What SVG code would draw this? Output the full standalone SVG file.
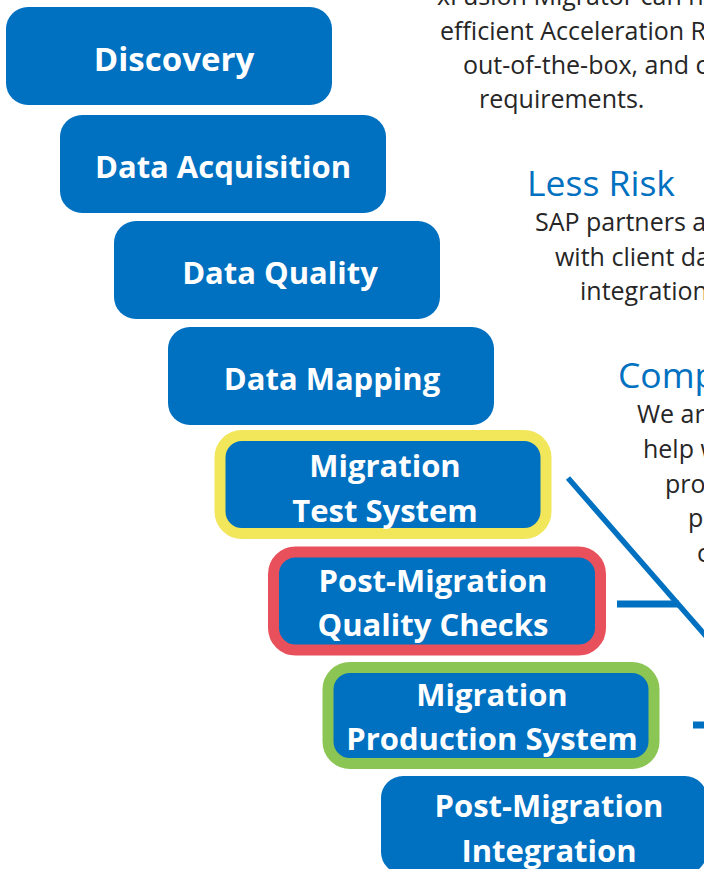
<svg xmlns="http://www.w3.org/2000/svg" width="704" height="869" viewBox="0 0 704 869">
<style>
.box{fill:#0070C0;}
.lbl{font-family:"Open Sans","Liberation Sans",sans-serif;font-weight:bold;font-size:31px;fill:#FFFFFF;text-anchor:middle;}
.body{font-family:"Open Sans","Liberation Sans",sans-serif;font-size:25px;fill:#262626;}
.head{font-family:"Open Sans","Liberation Sans",sans-serif;font-size:35.5px;fill:#0070C0;}
.conn{stroke:#0070C0;fill:none;}
</style>
<rect width="704" height="869" fill="#FFFFFF"/>
<g id="text-blocks">
<text class="body" x="437" y="5">xFusion Migrator can h</text>
<text class="body" x="440" y="39.5">efficient Acceleration R</text>
<text class="body" x="463" y="74">out-of-the-box, and c</text>
<text class="body" x="479" y="108">requirements.</text>
<text class="head" x="527" y="196">Less Risk</text>
<text class="body" x="535" y="231">SAP partners a</text>
<text class="body" x="555" y="265.5">with client da</text>
<text class="body" x="580" y="300">integration</text>
<text class="head" x="618" y="388">Comp</text>
<text class="body" x="637" y="423">We ar</text>
<text class="body" x="643" y="458">help w</text>
<text class="body" x="665" y="493">prov</text>
<text class="body" x="688" y="527">pr</text>
<text class="body" x="697" y="562">c</text>
</g>
<g id="connectors">
<line class="conn" x1="568" y1="478" x2="712" y2="643" stroke-width="5.5"/>
<line class="conn" x1="617" y1="604" x2="679" y2="604" stroke-width="7"/>
<line class="conn" x1="693" y1="725" x2="704" y2="725" stroke-width="7"/>
</g>
<g id="discovery">
<rect class="box" x="6" y="7" width="326" height="98" rx="22"/>
<text class="lbl" x="174" y="71" style="font-size:33px">Discovery</text>
</g>
<g id="data-acquisition">
<rect class="box" x="60" y="115" width="326" height="98" rx="22"/>
<text class="lbl" x="223" y="178">Data Acquisition</text>
</g>
<g id="data-quality">
<rect class="box" x="114" y="221" width="326" height="98" rx="22"/>
<text class="lbl" x="280" y="284">Data Quality</text>
</g>
<g id="data-mapping">
<rect class="box" x="168" y="327" width="326" height="98" rx="22"/>
<text class="lbl" x="332" y="390">Data Mapping</text>
</g>
<g id="migration-test-system">
<rect class="box" x="220" y="435.5" width="326" height="98" rx="22" stroke="#F2E65A" stroke-width="11"/>
<text class="lbl" x="385" y="477">Migration</text>
<text class="lbl" x="385" y="521.5">Test System</text>
</g>
<g id="post-migration-quality-checks">
<rect class="box" x="273.5" y="552" width="327" height="98" rx="22" stroke="#E8505B" stroke-width="11"/>
<text class="lbl" x="433" y="591.5">Post-Migration</text>
<text class="lbl" x="433" y="636">Quality Checks</text>
</g>
<g id="migration-production-system">
<rect class="box" x="328" y="667.5" width="326" height="96" rx="22" stroke="#8BC553" stroke-width="11"/>
<text class="lbl" x="492" y="706">Migration</text>
<text class="lbl" x="492" y="750">Production System</text>
</g>
<g id="post-migration-integration">
<rect class="box" x="381" y="776" width="326" height="98" rx="22"/>
<text class="lbl" x="549" y="817">Post-Migration</text>
<text class="lbl" x="549" y="862">Integration</text>
</g>
</svg>
